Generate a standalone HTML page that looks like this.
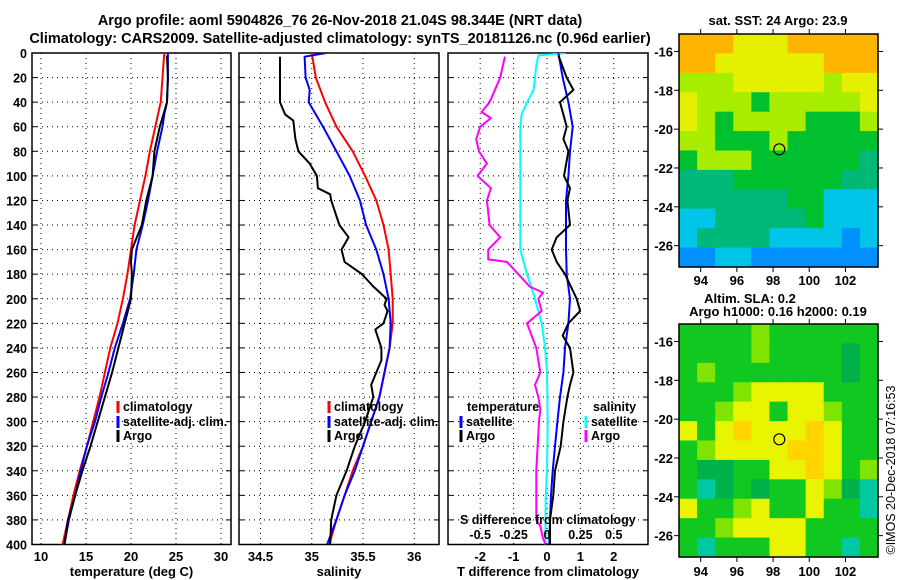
<!DOCTYPE html>
<html><head><meta charset="utf-8">
<style>
html,body{margin:0;padding:0;background:#fff;}
svg{display:block;font-family:"Liberation Sans",sans-serif;font-weight:bold;}
</style></head>
<body>
<svg id="c" width="900" height="580" viewBox="0 0 900 580" xmlns="http://www.w3.org/2000/svg">
<text x="340" y="25" text-anchor="middle" font-size="14.5">Argo profile: aoml 5904826_76 26-Nov-2018 21.04S 98.344E (NRT data)</text>
<text x="340" y="43" text-anchor="middle" font-size="14.5">Climatology: CARS2009. Satellite-adjusted climatology: synTS_20181126.nc (0.96d earlier)</text>
<text x="778" y="25" text-anchor="middle" font-size="13">sat. SST: 24 Argo: 23.9</text>
<text x="750" y="303" text-anchor="middle" font-size="13">Altim. SLA: 0.2</text>
<text x="778" y="316" text-anchor="middle" font-size="13">Argo h1000: 0.16 h2000: 0.19</text>
<text transform="translate(895,470) rotate(-90)" text-anchor="middle" font-size="12.5" font-weight="normal">©IMOS 20-Dec-2018 07:16:53</text>
<g id="plots"></g>
</svg>
<script>
// ---- data ----
const depths = [0,20,40,60,80,100,120,140,160,180,200,220,240,260,280,300,320,340,360,380,400];
const tempClim = [23.7,23.5,23.3,22.7,22.1,21.6,21.0,20.4,20.0,19.6,19.1,18.5,17.7,17.1,16.5,15.8,15.1,14.3,13.6,13.0,12.4];
const tempSatDepth = [0,20,40,50,60,80,100,120,140,160,180,200,220,240,260,280,300,320,340,360,380,400];
const tempSat = [24.1,24.1,24.0,23.7,23.5,22.9,22.4,21.9,21.3,20.6,20.3,19.9,19.1,18.2,17.5,16.7,16.0,15.1,14.4,13.8,13.1,12.6];
const tempArgoDepth = [2,20,40,50,60,80,100,120,140,160,170,180,200,220,240,260,280,300,320,340,360,380,400];
const tempArgo = [24.0,24.1,24.0,23.6,23.2,22.6,22.4,21.7,21.2,20.1,20.0,20.1,20.0,19.3,18.6,17.9,17.1,16.3,15.5,14.6,13.8,13.0,12.6];
const salClim = [35.0,35.04,35.13,35.24,35.40,35.52,35.63,35.70,35.75,35.77,35.79,35.79,35.76,35.71,35.66,35.58,35.50,35.40,35.32,35.24,35.17];
const salSatDepth = [0,3,20,30,40,60,80,100,120,140,160,180,200,220,240,260,280,300,320,340,360,380,400];
const salSat = [35.14,34.93,34.94,34.98,34.97,35.11,35.24,35.37,35.47,35.53,35.63,35.70,35.75,35.77,35.76,35.71,35.66,35.58,35.50,35.42,35.32,35.24,35.15];
const salArgoDepth = [3,20,40,50,55,70,80,90,100,110,115,120,140,150,160,170,180,190,200,205,210,220,225,240,250,260,270,280,300,320,340,360,380,400];
const salArgo = [34.69,34.69,34.69,34.74,34.82,34.84,34.87,34.98,35.05,35.06,35.18,35.19,35.27,35.36,35.29,35.32,35.49,35.60,35.73,35.71,35.74,35.70,35.62,35.68,35.68,35.63,35.58,35.60,35.52,35.42,35.34,35.24,35.19,35.18];
const dTSatDepth = [0,20,40,60,80,100,120,140,160,180,200,220,240,260,280,300,320,340,360,380,400];
const dTSat = [0.34,0.47,0.64,0.77,0.69,0.64,0.57,0.57,0.57,0.59,0.69,0.64,0.54,0.49,0.39,0.31,0.24,0.17,0.12,0.09,0.07];
const dTArgoDepth = [2,20,30,40,60,70,80,100,110,120,140,150,160,170,180,200,210,220,230,240,260,270,280,300,320,340,360,380,400];
const dTArgo = [0.34,0.59,0.79,0.39,0.59,0.49,0.64,0.51,0.69,0.61,0.69,0.29,0.14,0.29,0.54,0.89,0.99,0.64,0.47,0.69,0.79,0.69,0.61,0.49,0.41,0.24,0.19,0.09,0.09];
const dSSatDepth = [0,2,10,20,30,40,50,60,100,160,180,200,220,240,260,300,340,360,400];
const dSSat = [0.14,-0.065,-0.08,-0.09,-0.10,-0.15,-0.19,-0.20,-0.20,-0.20,-0.15,-0.09,-0.04,-0.015,0.0,0.005,0.0,-0.01,-0.012];
const dSArgoDepth = [3,20,40,48,53,60,70,80,90,100,110,120,140,150,160,168,170,180,190,195,200,210,220,240,260,270,280,290,300,320,340,360,380,385,395,400];
const dSArgo = [-0.315,-0.35,-0.43,-0.49,-0.42,-0.50,-0.53,-0.51,-0.45,-0.52,-0.42,-0.45,-0.43,-0.35,-0.44,-0.44,-0.30,-0.215,-0.13,-0.03,-0.065,-0.04,-0.15,-0.08,-0.05,-0.09,-0.065,-0.05,-0.06,-0.07,-0.08,-0.08,-0.08,-0.05,-0.03,-0.01];
const depthTicks = [0,20,40,60,80,100,120,140,160,180,200,220,240,260,280,300,320,340,360,380,400];
const tempTicks = [10,15,20,25,30];
const salTicks = [34.5,35,35.5,36];
const salTickLabels = ["34.5","35","35.5","36"];
const dTTicks = [-2,-1,0,1,2];
const dSTicks = [-0.5,-0.25,0,0.25,0.5];
const dSTickLabels = ["-0.5","-0.25","0","0.25","0.5"];
const lonTicks = [94,96,98,100,102];
const latTicks = [-16,-18,-20,-22,-24,-26];
const argoLon = 98.344, argoLat = -21.04;
const sstGrid = [
"OOOYYYOOOOO","OOYYYYYYOOO","LLLYYYYYLYY","YLLLGLLLLLY","YLGLLLLGGGL","LLGGGLGGGGG",
"GLLLGGGGGGT","TTTGGGGGGTT","TTTTTTGGCCC","CCTTTTTGCCC","CTTTTCCCCBC","BBCCBBBBBBB"];
const slaGrid = [
"GGGGLGGGGGG","GGGGLGGGGDG","GLGGGGGGGDG","GGGLYYYYGGG","GGLYYGYYLGG","YGYOYYYOYGG",
"GLYYYYOOYGG","GDDGGYYOYGL","GTDGDGGYLDT","YGGLYGGYGGT","GGLYYYYGGGG","GTGGGYYGGTG"];
const sstColors = {O:"#ffb400",Y:"#e4f000",L:"#a8ec00",G:"#00c030",T:"#00b878",C:"#00c4e8",B:"#0090ff"};
const slaColors = {O:"#ffd400",Y:"#e8f400",L:"#80e400",G:"#10c820",D:"#00b048",T:"#00c8a0"};

// ---- layout / scales ----
const Y0 = 53, Y1 = 544.5;
const yD = d => Y0 + (d/400)*(Y1-Y0);
const P1 = {l:32, r:231}, P2 = {l:239, r:439}, P3 = {l:448, r:648};
const xT = t => 41 + (t-10)*9;
const xS = s => 260.5 + (s-34.5)*102.5;
const xDT = v => 547 + v*33.4;
const xDS = v => 547 + v*133.6;
const M1 = {l:679, r:878, t:34, b:267}, M2 = {l:679, r:878, t:324, b:557};
const lonL = 92.8, lonR = 103.8, latT = -15.1, latB = -27.1;
const mx = (m,lon) => m.l + (lon-lonL)/(lonR-lonL)*(m.r-m.l);
const my = (m,lat) => m.t + (latT-lat)/(latT-latB)*(m.b-m.t);

const NS = "http://www.w3.org/2000/svg";
const root = document.getElementById('plots');
function mk(tag, attrs, parent){ const e=document.createElementNS(NS,tag); for(const k in attrs) e.setAttribute(k,attrs[k]); (parent||root).appendChild(e); return e; }

function frame(P, name, xTicks, xLabels, xf, xtitle, leftLabels){
  const g = mk('g',{});
  
  
  depthTicks.forEach((d,i)=>{
    const y=yD(d);
    if(d>0 && d<400){ const gl=mk('line',{x1:P.l,x2:P.r,y1:y,y2:y,stroke:'#000','stroke-width':1,'stroke-dasharray':'1,4'},g);
        }
    mk('line',{x1:P.l,x2:P.l+5,y1:y,y2:y,stroke:'#000'},g);
    mk('line',{x1:P.r-5,x2:P.r,y1:y,y2:y,stroke:'#000'},g);
    if(leftLabels){ const t=mk('text',{x:P.l-5,y:y+5,'text-anchor':'end','font-size':12.5},g); t.textContent=d;
        }
  });
  xTicks.forEach((v,i)=>{
    const x=xf(v);
    const gl=mk('line',{x1:x,x2:x,y1:Y0,y2:Y1,stroke:'#000','stroke-width':1,'stroke-dasharray':'1,4'},g);
     
    const t=mk('text',{x:x,y:561,'text-anchor':'middle','font-size':13},g); t.textContent=xLabels[i];
     
  });
  const r=mk('rect',{x:P.l,y:Y0,width:P.r-P.l,height:Y1-Y0,fill:'none',stroke:'#000','stroke-width':1.5},g);
   
  const tt=mk('text',{x:(P.l+P.r)/2,y:576,'text-anchor':'middle','font-size':13},g); tt.textContent=xtitle;
   
  return g;
}
function series(ds, vs, xf, color, name, clipId){
  const pts = ds.map((d,i)=> xf(vs[i]).toFixed(1)+','+yD(d).toFixed(1)).join(' ');
  const p = mk('polyline',{points:pts,fill:'none',stroke:color,'stroke-width':2,'stroke-linejoin':'round','clip-path':'url(#'+clipId+')'});
  
  
}
function legendEntry(x, y, color, label, name){
  const g=mk('g',{});
  
  
  if(color) mk('rect',{x:x-1.5,y:y-10,width:3,height:12,fill:color},g);
  const t=mk('text',{x:x+5,y:y,'font-size':12.5},g); t.textContent=label;
}
const defs = mk('defs',{});
[['c1',P1],['c2',P2],['c3',P3]].forEach(([id,P])=>{ const cp=mk('clipPath',{id:id},defs); mk('rect',{x:P.l,y:Y0,width:P.r-P.l,height:Y1-Y0},cp); });

// panel 1
frame(P1,'temperature-panel',tempTicks,tempTicks.map(String),xT,'temperature (deg C)',true);
series(depths,tempClim,xT,'#ff0000','temp-climatology-line','c1');
series(tempSatDepth,tempSat,xT,'#0000ff','temp-satellite-line','c1');
series(tempArgoDepth,tempArgo,xT,'#000000','temp-argo-line','c1');
legendEntry(118,411,'#ff0000','climatology','legend-climatology');
legendEntry(118,426,'#0000ff','satellite-adj. clim.','legend-satellite-adj');
legendEntry(118,440,'#000000','Argo','legend-argo');

// panel 2
frame(P2,'salinity-panel',salTicks,salTickLabels,xS,'salinity',false);
series(depths,salClim,xS,'#ff0000','sal-climatology-line','c2');
series(salSatDepth,salSat,xS,'#0000ff','sal-satellite-line','c2');
series(salArgoDepth,salArgo,xS,'#000000','sal-argo-line','c2');
legendEntry(329,411,'#ff0000','climatology','legend-sal-climatology');
legendEntry(329,426,'#0000ff','satellite-adj. clim.','legend-sal-satellite-adj');
legendEntry(329,440,'#000000','Argo','legend-sal-argo');

// panel 3
frame(P3,'difference-panel',dTTicks,dTTicks.map(String),xDT,'T difference from climatology',false);
series(dSSatDepth,dSSat,xDS,'#00ffff','s-diff-satellite-line','c3');
series(dSArgoDepth,dSArgo,xDS,'#ff00ff','s-diff-argo-line','c3');
series(dTSatDepth,dTSat,xDT,'#0000ff','t-diff-satellite-line','c3');
series(dTArgoDepth,dTArgo,xDT,'#000000','t-diff-argo-line','c3');
legendEntry(462,411,null,'temperature','legend-temperature-header');
legendEntry(461,426,'#0000ff','satellite','legend-t-satellite');
legendEntry(461,440,'#000000','Argo','legend-t-argo');
legendEntry(588,411,null,'salinity','legend-salinity-header');
legendEntry(586,426,'#00ffff','satellite','legend-s-satellite');
legendEntry(586,440,'#ff00ff','Argo','legend-s-argo');
const st=mk('text',{x:460,y:524,'font-size':12.5}); st.textContent='S difference from climatology';
 
dSTicks.forEach((v,i)=>{ const t=mk('text',{x:xDS(v),y:539,'text-anchor':'middle','font-size':12.5}); t.textContent=dSTickLabels[i];
    });

// maps
function drawMap(M, grid, colors, name, lonLabelY){
  const g=mk('g',{});
  
  
  const rows=grid.length, cols=grid[0].length;
  const cw=(M.r-M.l)/cols, ch=(M.b-M.t)/rows;
  grid.forEach((row,i)=>{ for(let j=0;j<cols;j++){
    mk('rect',{x:(M.l+j*cw).toFixed(2),y:(M.t+i*ch).toFixed(2),width:(cw+0.6).toFixed(2),height:(ch+0.6).toFixed(2),fill:colors[row[j]]},g);
  }});
  mk('rect',{x:M.l,y:M.t,width:M.r-M.l,height:M.b-M.t,fill:'none',stroke:'#000','stroke-width':1.5},g);
  latTicks.forEach(l=>{ const y=my(M,l);
    mk('line',{x1:M.l-5,x2:M.l,y1:y,y2:y,stroke:'#000'},g); mk('line',{x1:M.r,x2:M.r+5,y1:y,y2:y,stroke:'#000'},g);
    const t=mk('text',{x:M.l-6,y:y+5,'text-anchor':'end','font-size':13},g); t.textContent=l;
      });
  lonTicks.forEach(l=>{ const x=mx(M,l);
    mk('line',{x1:x,x2:x,y1:M.t-5,y2:M.t,stroke:'#000'},g); mk('line',{x1:x,x2:x,y1:M.b,y2:M.b+5,stroke:'#000'},g);
    const t=mk('text',{x:x,y:lonLabelY,'text-anchor':'middle','font-size':13},g); t.textContent=l;
      });
  const c=mk('circle',{cx:mx(M,argoLon),cy:my(M,argoLat),r:5.5,fill:'none',stroke:'#000','stroke-width':1.2},g);
   
}
drawMap(M1, sstGrid, sstColors, 'sst-map', 285);
drawMap(M2, slaGrid, slaColors, 'sla-map', 576);
</script>
</body></html>
